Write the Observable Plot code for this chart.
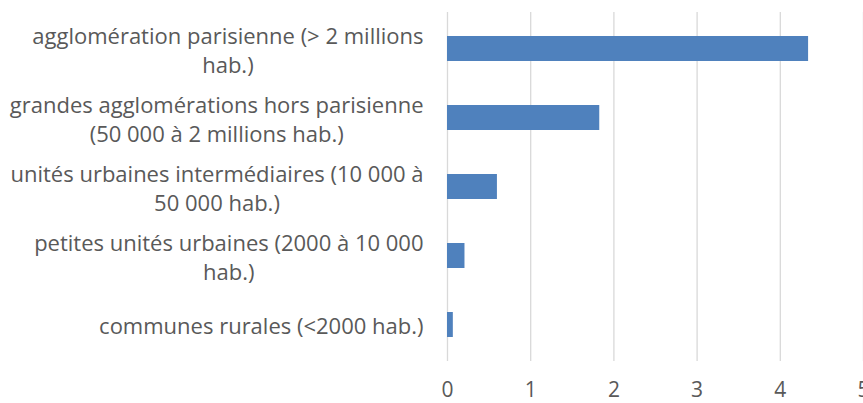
<!DOCTYPE html>
<html>
<head>
<meta charset="utf-8">
<script src="https://cdn.jsdelivr.net/npm/d3@7"></script>
<script src="https://cdn.jsdelivr.net/npm/@observablehq/plot@0.6"></script>
<style>
  html, body { margin: 0; padding: 0; background: #fff; overflow: hidden; }
  svg { display: block; }
</style>
</head>
<body>
<div id="chart"></div>
<script>
const categories = [
  "agglomération parisienne (> 2 millions\nhab.)",
  "grandes agglomérations hors parisienne\n(50 000 à 2 millions hab.)",
  "unités urbaines intermédiaires (10 000 à\n50 000 hab.)",
  "petites unités urbaines (2000 à 10 000\nhab.)",
  "communes rurales (<2000 hab.)"
];
const values = [4.34, 1.83, 0.60, 0.21, 0.07];
const xTicks = [0, 1, 2, 3, 4, 5];

const data = categories.map((c, i) => ({category: c, value: values[i]}));

const FONT = "'Open Sans', sans-serif";
const FS = 22;
const ctx = document.createElement("canvas").getContext("2d");
ctx.font = `${FS}px ${FONT}`;
const blockWidth = c => Math.max(...c.split("\n").map(l => ctx.measureText(l).width));

const labelMarks = data.map(d => Plot.text([d], {
  y: "category",
  text: "category",
  frameAnchor: "left",
  textAnchor: "middle",
  dx: -(24 + blockWidth(d.category) / 2),
  lineHeight: 1.32,
  fill: "#595959",
  fontSize: FS
}));

const chart = Plot.plot({
  width: 863,
  height: 403,
  marginLeft: 447,
  marginRight: 0,
  marginTop: 12,
  marginBottom: 42,
  style: {fontFamily: FONT, fontSize: `${FS}px`, color: "#595959", overflow: "visible"},
  x: {domain: [0, 5], ticks: xTicks},
  y: {domain: categories, paddingInner: 0.64, paddingOuter: 0.32, label: null, axis: null},
  marks: [
    Plot.gridX(xTicks, {stroke: "#d9d9d9", strokeOpacity: 1, strokeWidth: 1.3}),
    Plot.barX(data, {x: "value", y: "category", fill: "#4F81BD"}),
    Plot.axisX(xTicks, {tickSize: 0, tickPadding: 21, label: null, fill: "#595959", fontSize: 21}),
    ...labelMarks
  ]
});
document.getElementById("chart").appendChild(chart);
</script>
</body>
</html>
